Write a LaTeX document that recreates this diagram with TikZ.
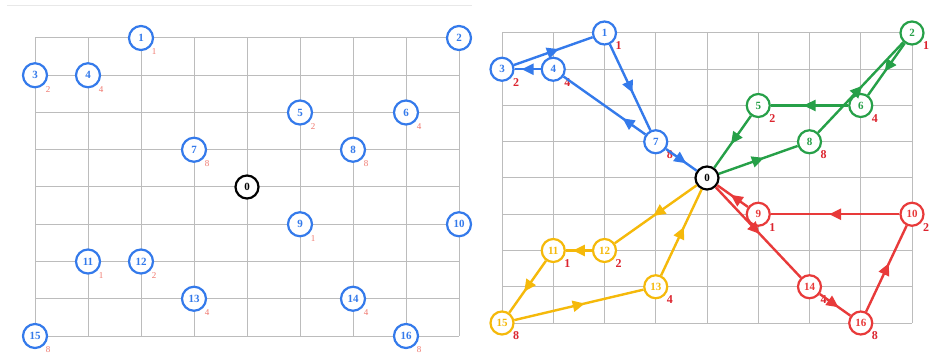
\documentclass[tikz,border=0pt]{standalone}
\usepackage{fontspec}
\setmainfont{Liberation Serif}
\usetikzlibrary{arrows.meta,decorations.markings}
\definecolor{nblue}{RGB}{52,122,235}
\definecolor{ngreen}{RGB}{38,160,72}
\definecolor{nred}{RGB}{232,58,58}
\definecolor{nyellow}{RGB}{245,185,10}
\definecolor{lblred}{RGB}{240,120,110}
\definecolor{dred}{RGB}{220,36,46}
\definecolor{gridgray}{RGB}{188,188,188}
\definecolor{framegray}{RGB}{232,232,232}
\tikzset{
 gridline/.style={draw=gridgray, line width=1pt},
 lnode/.style={circle, draw=nblue, line width=2.2pt, fill=white, text=nblue, minimum size=24pt, inner sep=0pt, font=\fontsize{11}{11}\selectfont\bfseries},
 rnode/.style={circle, draw=#1, line width=2.2pt, fill=white, text=#1, minimum size=23pt, inner sep=0pt, font=\fontsize{11}{11}\selectfont\bfseries},
 depot/.style={circle, draw=black, line width=2.2pt, fill=white, text=black, minimum size=23pt, inner sep=0pt, font=\fontsize{11}{11}\selectfont\bfseries},
 ldem/.style={text=lblred, inner sep=0pt, font=\fontsize{9}{9}\selectfont},
 rdem/.style={text=dred, inner sep=0pt, font=\fontsize{12}{12}\selectfont\bfseries},
 route/.style 2 args={draw=#1, line width=2.4pt, postaction={decorate},
   decoration={markings, mark=at position #2 with {\arrow[#1,xshift=6pt]{Triangle[length=12pt,width=11pt]}}}},
}
\begin{document}
\begin{tikzpicture}[x=1pt,y=-1pt]
\useasboundingbox (0,0) rectangle (939,363);
\fill[white] (0,0) rectangle (939,363);
% left panel frame line
\draw[framegray, line width=0.8pt] (7,5) -- (472,5);
% left grid
\foreach \i in {0,...,8} {
  \draw[gridline] ({35+53*\i},38) -- ({35+53*\i},336);
  \draw[gridline] (35,{38+37.25*\i}) -- (459,{38+37.25*\i});
}
% right grid
\foreach \i in {0,...,8} {
  \draw[gridline] ({502+51.25*\i},33) -- ({502+51.25*\i},323);
  \draw[gridline] (502,{33+36.25*\i}) -- (912,{33+36.25*\i});
}
% left nodes
\node[depot] (L0) at ({35+53*4},{38+37.25*4}) {0};
\foreach \n/\c/\r/\d in {1/2/0/1, 3/0/1/2, 4/1/1/4, 5/5/2/2, 6/7/2/4, 7/3/3/8, 8/6/3/8,
  9/5/5/1, 11/1/6/1, 12/2/6/2, 13/3/7/4, 14/6/7/4, 15/0/8/8, 16/7/8/8} {
  \node[lnode] (L\n) at ({35+53*\c},{38+37.25*\r}) {\n};
  \node[ldem] (LD\n) at ({35+53*\c+13},{38+37.25*\r+14}) {\d};
}
\foreach \n/\c/\r in {2/8/0, 10/8/5} {
  \node[lnode] (L\n) at ({35+53*\c},{38+37.25*\r}) {\n};
}
% right nodes
\node[depot] (R0) at ({502+51.25*4},{33+36.25*4}) {0};
\foreach \n/\c/\r/\d/\col in {1/2/0/1/nblue, 3/0/1/2/nblue, 4/1/1/4/nblue, 7/3/3/8/nblue,
  2/8/0/1/ngreen, 5/5/2/2/ngreen, 6/7/2/4/ngreen, 8/6/3/8/ngreen,
  9/5/5/1/nred, 10/8/5/2/nred, 14/6/7/4/nred, 16/7/8/8/nred,
  11/1/6/1/nyellow, 12/2/6/2/nyellow, 13/3/7/4/nyellow, 15/0/8/8/nyellow} {
  \node[rnode=\col] (R\n) at ({502+51.25*\c},{33+36.25*\r}) {\n};
  \node[rdem] (RD\n) at ({502+51.25*\c+14},{33+36.25*\r+13}) {\d};
}
% blue route
\draw[route={nblue}{0.22}] (R7) -- (R4);
\draw[route={nblue}{0.5}] (R4) -- (R3);
\draw[route={nblue}{0.5}] (R3) -- (R1);
\draw[route={nblue}{0.5}] (R1) -- (R7);
\draw[route={nblue}{0.5}] (R7) -- (R0);
% green route
\draw[route={ngreen}{0.5}] (R0) -- (R8);
\draw[route={ngreen}{0.47}] (R8) -- (R2);
\draw[route={ngreen}{0.45}] (R2) -- (R6);
\draw[route={ngreen}{0.5}] (R6) -- (R5);
\draw[route={ngreen}{0.45}] (R5) -- (R0);
% red route
\draw[route={nred}{0.47}] (R0) -- (R14);
\draw[route={nred}{0.45}] (R14) -- (R16);
\draw[route={nred}{0.5}] (R16) -- (R10);
\draw[route={nred}{0.5}] (R10) -- (R9);
\draw[route={nred}{0.4}] (R9) -- (R0);
% yellow route
\draw[route={nyellow}{0.47}] (R0) -- (R12);
\draw[route={nyellow}{0.5}] (R12) -- (R11);
\draw[route={nyellow}{0.5}] (R11) -- (R15);
\draw[route={nyellow}{0.5}] (R15) -- (R13);
\draw[route={nyellow}{0.5}] (R13) -- (R0);
\end{tikzpicture}
\end{document}
